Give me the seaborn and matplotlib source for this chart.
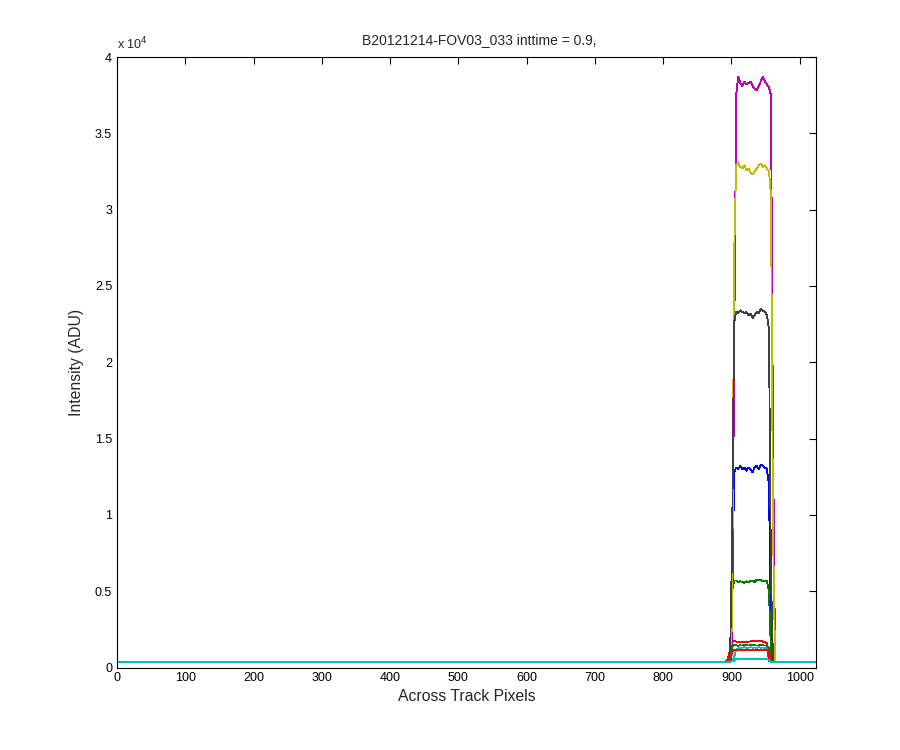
import matplotlib
import matplotlib.pyplot as plt
import numpy as np
import pandas as pd
import seaborn as sns

matplotlib.use("Agg")

# MATLAB (pre-2014) default colour order
MATLAB_COLORS = [
    "#0000FF",  # b
    "#008000",  # g
    "#FF0000",  # r
    "#00BFBF",  # c
    "#BF00BF",  # m
    "#BFBF00",  # y
    "#404040",  # k
]

X_START = 0
X_END = 1024

# pixel positions sampled across the illuminated slit
PLATEAU_X = [892, 895, 898, 901, 904, 907, 910, 913, 916, 919, 922, 925, 928,
             931, 934, 937, 940, 943, 946, 949, 952, 955, 958, 961, 964, 967]

# dark level away from the slit, one per series
BASELINE = [380, 380, 380, 380, 380, 380, 380, 380, 380, 380, 380]

# intensity (ADU) at each PLATEAU_X, one list per series
series_1 = [380, 380, 400, 3000, 12800, 13100, 13000, 13200, 13000, 13100,
            12900, 13100, 13000, 12800, 13100, 13200, 13000, 13300, 13200,
            13100, 13000, 12000, 2000, 380, 380, 380]
series_2 = [380, 380, 600, 5000, 5700, 5700, 5600, 5650, 5600, 5550, 5650,
            5600, 5700, 5650, 5600, 5750, 5700, 5750, 5650, 5700, 5650, 5000,
            1000, 380, 380, 380]
series_3 = [380, 550, 1200, 1700, 1750, 1700, 1650, 1700, 1650, 1700, 1650,
            1700, 1700, 1750, 1700, 1750, 1700, 1750, 1700, 1650, 1600, 400,
            380, 380, 380, 380]
series_4 = [380, 380, 380, 400, 700, 1150, 1250, 1300, 1300, 1320, 1300, 1300,
            1320, 1300, 1310, 1300, 1320, 1300, 1310, 1300, 1300, 1250, 400,
            380, 380, 380]
series_5 = [380, 380, 380, 1000, 20000, 37500, 38700, 38300, 38100, 38400,
            38200, 38300, 38400, 38100, 37900, 37800, 38100, 38400, 38700,
            38400, 38200, 38000, 37500, 15000, 380, 380]
series_6 = [380, 380, 380, 3000, 27000, 32900, 33100, 32800, 32700, 32900,
            32600, 32700, 32400, 32300, 32500, 32700, 32900, 33000, 32800,
            32900, 32700, 32500, 31000, 9000, 380, 380]
series_7 = [380, 380, 500, 8000, 22600, 23300, 23200, 23400, 23300, 23200,
            23300, 23100, 23200, 22900, 23100, 23300, 23200, 23500, 23400,
            23300, 23100, 22200, 6000, 380, 380, 380]
series_8 = [380, 380, 380, 400, 450, 550, 560, 550, 560, 550, 560, 550, 550,
            560, 550, 560, 550, 560, 550, 560, 550, 500, 380, 380, 380, 380]
series_9 = [380, 380, 800, 1400, 1450, 1450, 1430, 1450, 1440, 1460, 1450,
            1440, 1450, 1460, 1450, 1440, 1450, 1460, 1450, 1440, 1450, 1300,
            500, 380, 380, 380]
series_10 = [380, 380, 600, 1000, 1150, 1150, 1140, 1160, 1150, 1140, 1150,
             1160, 1150, 1140, 1150, 1160, 1150, 1140, 1150, 1160, 1150, 1100,
             400, 380, 380, 380]
series_11 = [380, 380, 380, 400, 450, 550, 560, 550, 560, 550, 560, 550, 550,
             560, 550, 560, 550, 560, 550, 560, 550, 500, 380, 380, 380, 380]

ALL_SERIES = [series_1, series_2, series_3, series_4, series_5, series_6,
              series_7, series_8, series_9, series_10, series_11]


def build_frame():
    rows = []
    for i, values in enumerate(ALL_SERIES):
        xs = [X_START] + PLATEAU_X + [X_END]
        ys = [BASELINE[i]] + values + [BASELINE[i]]
        for x, y in zip(xs, ys):
            # zero padded so the draw order stays s01..s11
            rows.append({"pixel": x, "intensity": y, "series": f"s{i + 1:02d}"})
    return pd.DataFrame(rows)


def main():
    sns.set_style("white")
    plt.rcParams["font.family"] = ["Liberation Sans", "DejaVu Sans"]

    df = build_frame()
    hue_order = [f"s{i + 1:02d}" for i in range(len(ALL_SERIES))]
    palette = [MATLAB_COLORS[i % len(MATLAB_COLORS)] for i in range(len(ALL_SERIES))]

    fig, ax = plt.subplots(figsize=(9, 7.5), dpi=100)
    fig.subplots_adjust(left=0.13, right=0.9067, bottom=0.11, top=0.924)
    sns.lineplot(
        data=df,
        x="pixel",
        y="intensity",
        hue="series",
        hue_order=hue_order,
        palette=palette,
        estimator=None,
        sort=False,
        linewidth=0.6,
        antialiased=False,  # crisp 1px lines like the MATLAB export
        legend=False,
        ax=ax,
    )

    ax.set_xlim(X_START, X_END)
    ax.set_ylim(0, 40000)
    ax.set_xticks(np.arange(0, 1001, 100))
    yticks = np.arange(0, 40001, 5000)
    ax.set_yticks(yticks)
    ax.set_yticklabels([f"{t / 1e4:g}" for t in yticks])
    ax.tick_params(direction="in", length=5, width=0.8, top=True, right=True,
                   labelsize=9, colors="black")
    for spine in ax.spines.values():
        spine.set_visible(True)
        spine.set_color("black")
        spine.set_linewidth(0.8)

    ax.text(0, 1.008, r"x 10$^{4}$", transform=ax.transAxes,
            ha="left", va="bottom", fontsize=9)
    ax.set_title("B20121214-FOV03_033 inttime = 0.9,", fontsize=10, x=0.518,
                 pad=9)
    ax.set_xlabel("Across Track Pixels", fontsize=11.3, labelpad=3)
    ax.set_ylabel("Intensity (ADU)", fontsize=11.3, labelpad=8)

    plt.savefig("out.png", dpi=100, facecolor="white")
    plt.close()


if __name__ == "__main__":
    main()
